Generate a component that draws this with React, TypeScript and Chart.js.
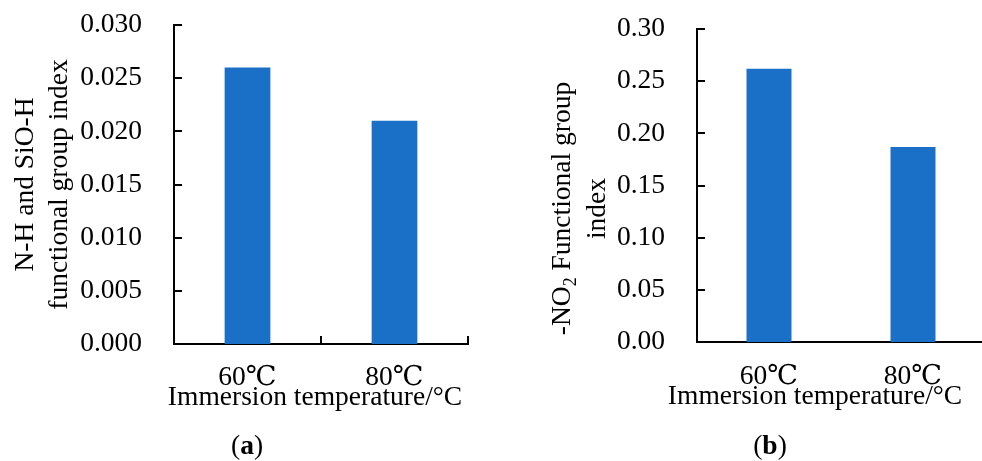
import React, { useEffect, useRef } from "react";
import { Chart, registerables } from "chart.js";

Chart.register(...registerables);

// ---- data ----
const categories = ["60℃", "80℃"];
const nhSiohIndex = [0.026, 0.021];
const no2Index = [0.262, 0.187];
const yMaxA = 0.03;
const yStepA = 0.005;
const yMaxB = 0.3;
const yStepB = 0.05;
const xTitle = "Immersion temperature/°C";
const yTitleA = ["N-H and SiO-H", "functional group index"];
const yTitleB1 = { pre: "-NO", sub: "2", post: " Functional group" };
const yTitleB2 = "index";

const FONT = "'Liberation Serif', 'Times New Roman', 'DejaVu Serif', 'Noto Sans CJK SC', serif";
const FS = 27.5;
const BAR = "#1a70c6";

type Deco = {
  yTitle: (ctx: CanvasRenderingContext2D, area: any) => void;
  xTitleDx: number;
  xTitleY: number;
  caption: string;
  captionDx: number;
  xTicks: boolean;
};

function decoPlugin(d: Deco) {
  return {
    id: "deco",
    afterDraw(chart: any) {
      const ctx: CanvasRenderingContext2D = chart.ctx;
      const area = chart.chartArea;
      const ys = chart.scales.y;
      ctx.save();
      ctx.strokeStyle = "#000";
      ctx.lineWidth = 2;
      // inner ticks on y
      ys.ticks.forEach((t: any) => {
        if (t.value <= 0) return;
        const y = Math.round(ys.getPixelForValue(t.value));
        ctx.beginPath();
        ctx.moveTo(area.left, y);
        ctx.lineTo(area.left + 8, y);
        ctx.stroke();
      });
      if (d.xTicks) {
        const n = chart.data.labels.length;
        const w = (area.right - area.left) / n;
        for (let i = 1; i <= n; i++) {
          const x = Math.round(area.left + i * w);
          ctx.beginPath();
          ctx.moveTo(x, area.bottom);
          ctx.lineTo(x, area.bottom - 8);
          ctx.stroke();
        }
      }
      ctx.fillStyle = "#000";
      ctx.font = `${FS}px ${FONT}`;
      ctx.textAlign = "center";
      ctx.textBaseline = "middle";
      // x title
      ctx.fillText(xTitle, area.left + d.xTitleDx, d.xTitleY);
      // caption "(a)" with bold letter
      const open = "(";
      const close = ")";
      ctx.font = `${FS}px ${FONT}`;
      const wo = ctx.measureText(open).width;
      const wc = ctx.measureText(close).width;
      ctx.font = `bold ${FS}px ${FONT}`;
      const wl = ctx.measureText(d.caption).width;
      const total = wo + wl + wc;
      let cx = area.left + d.captionDx - total / 2;
      const cy = 447;
      ctx.textAlign = "left";
      ctx.font = `${FS}px ${FONT}`;
      ctx.fillText(open, cx, cy);
      cx += wo;
      ctx.font = `bold ${FS}px ${FONT}`;
      ctx.fillText(d.caption, cx, cy);
      cx += wl;
      ctx.font = `${FS}px ${FONT}`;
      ctx.fillText(close, cx, cy);
      // y title
      d.yTitle(ctx, area);
      ctx.restore();
    },
  };
}

function makeConfig(
  values: number[],
  yMax: number,
  step: number,
  digits: number,
  yWidth: number,
  xHeight: number,
  padTop: number,
  padRight: number,
  tickPad: number,
  barPct: number,
  deco: Deco
): any {
  const font = { family: FONT, size: FS };
  return {
    type: "bar",
    data: {
      labels: categories,
      datasets: [
        {
          data: values,
          backgroundColor: BAR,
          borderWidth: 0,
          barPercentage: barPct,
          categoryPercentage: 1,
        },
      ],
    },
    options: {
      animation: false,
      responsive: false,
      devicePixelRatio: 1,
      layout: { padding: { top: padTop, right: padRight, left: 0, bottom: 0 } },
      plugins: { legend: { display: false }, tooltip: { enabled: false } },
      scales: {
        x: {
          grid: { display: false, drawTicks: false, tickLength: 0 },
          border: { display: true, color: "#000", width: 2 },
          ticks: { font, color: "#000", padding: tickPad, maxRotation: 0, autoSkip: false },
          afterFit: (s: any) => {
            s.height = xHeight;
          },
        },
        y: {
          min: 0,
          max: yMax,
          grid: { display: false, drawTicks: true, tickLength: 32 },
          border: { display: true, color: "#000", width: 2 },
          ticks: {
            stepSize: step,
            font,
            color: "#000",
            padding: 0,
            callback: (v: any) => Number(v).toFixed(digits),
          },
          afterFit: (s: any) => {
            s.width = yWidth;
          },
        },
      },
    },
    plugins: [decoPlugin(deco)],
  };
}

const decoA: Deco = {
  xTitleDx: 141,
  xTitleY: 398,
  caption: "a",
  captionDx: 73,
  xTicks: true,
  yTitle: (ctx, area) => {
    const cy = (area.top + area.bottom) / 2;
    ctx.font = `${FS}px ${FONT}`;
    ctx.textAlign = "center";
    ctx.textBaseline = "middle";
    const xs = [26, 60];
    yTitleA.forEach((line, i) => {
      ctx.save();
      ctx.translate(xs[i], cy);
      ctx.rotate(-Math.PI / 2);
      ctx.fillText(line, 0, 0);
      ctx.restore();
    });
  },
};

const decoB: Deco = {
  xTitleDx: 118,
  xTitleY: 397,
  caption: "b",
  captionDx: 73,
  xTicks: false,
  yTitle: (ctx, area) => {
    const cy = (area.top + area.bottom) / 2 + 23;
    ctx.textBaseline = "middle";
    // line 1 with subscript
    ctx.save();
    ctx.translate(72, cy);
    ctx.rotate(-Math.PI / 2);
    ctx.font = `${FS}px ${FONT}`;
    const w1 = ctx.measureText(yTitleB1.pre).width;
    const w3 = ctx.measureText(yTitleB1.post).width;
    ctx.font = `${FS * 0.65}px ${FONT}`;
    const w2 = ctx.measureText(yTitleB1.sub).width;
    let x = -(w1 + w2 + w3) / 2;
    ctx.textAlign = "left";
    ctx.font = `${FS}px ${FONT}`;
    ctx.fillText(yTitleB1.pre, x, 0);
    x += w1;
    ctx.font = `${FS * 0.65}px ${FONT}`;
    ctx.fillText(yTitleB1.sub, x, 8);
    x += w2;
    ctx.font = `${FS}px ${FONT}`;
    ctx.fillText(yTitleB1.post, x, 0);
    ctx.restore();
    // line 2
    ctx.save();
    ctx.translate(107, cy);
    ctx.rotate(-Math.PI / 2);
    ctx.font = `${FS}px ${FONT}`;
    ctx.textAlign = "center";
    ctx.fillText(yTitleB2, 0, 0);
    ctx.restore();
  },
};

export default function App() {
  const refA = useRef<HTMLCanvasElement>(null);
  const refB = useRef<HTMLCanvasElement>(null);

  useEffect(() => {
    if (!refA.current || !refB.current) return;
    const a = new Chart(
      refA.current,
      makeConfig(nhSiohIndex, yMaxA, yStepA, 3, 174, 117, 25, 23, 17, 0.311, decoA)
    );
    const b = new Chart(
      refB.current,
      makeConfig(no2Index, yMaxB, yStepB, 2, 206, 119, 29, 6, 18, 0.3125, decoB)
    );
    return () => {
      a.destroy();
      b.destroy();
    };
  }, []);

  return (
    <div
      style={{
        position: "fixed",
        left: 0,
        top: 0,
        width: 982,
        height: 461,
        overflow: "hidden",
        background: "#fff",
      }}
    >
      <canvas
        ref={refA}
        width={491}
        height={461}
        style={{ position: "absolute", left: 0, top: 0, width: 491, height: 461 }}
      />
      <canvas
        ref={refB}
        width={500}
        height={461}
        style={{ position: "absolute", left: 491, top: 0, width: 500, height: 461 }}
      />
    </div>
  );
}
